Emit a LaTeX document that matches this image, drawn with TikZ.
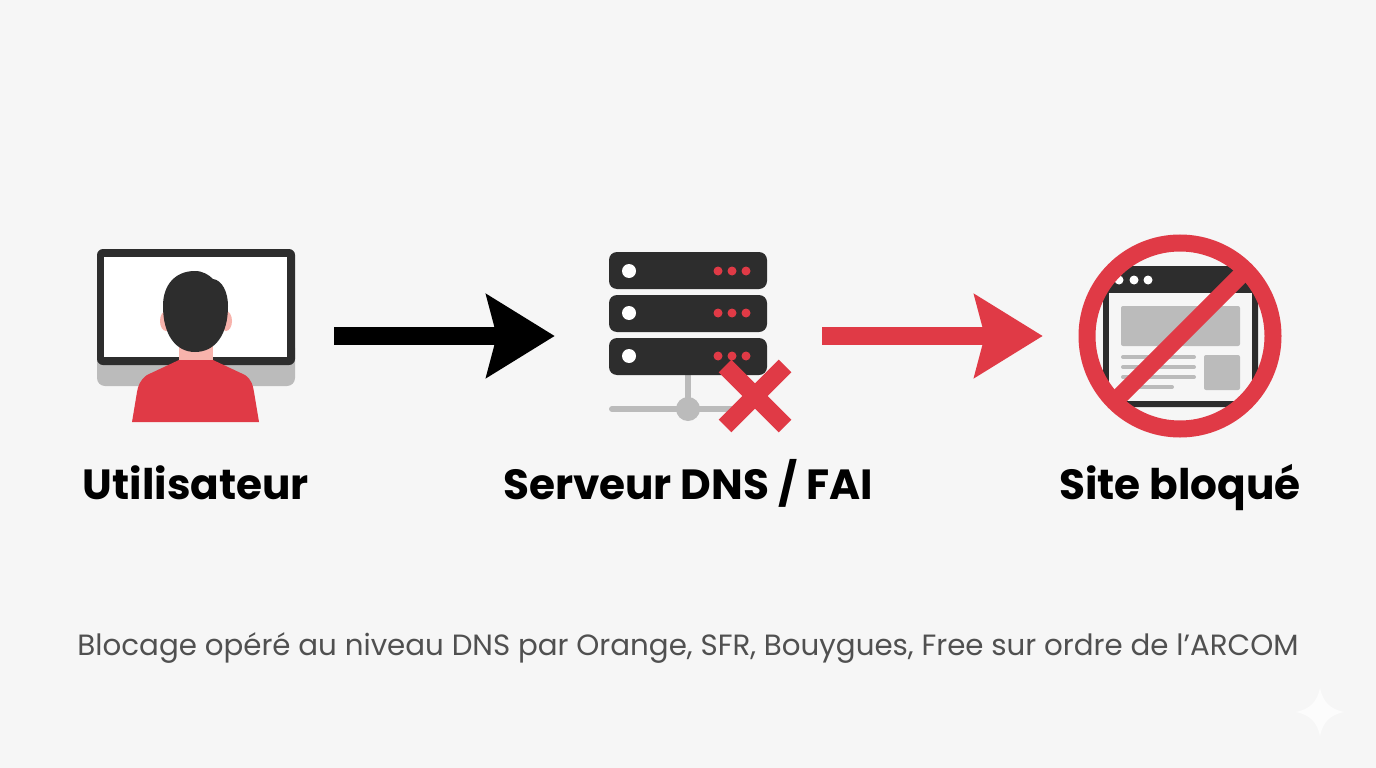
\documentclass[tikz,border=0pt]{standalone}
\usepackage{fontspec}
\setmainfont{Poppins}
\usetikzlibrary{arrows.meta, positioning, calc}
\definecolor{PageGray}{HTML}{F6F6F6}
\definecolor{IconDark}{HTML}{2D2D2D}
\definecolor{IconGray}{HTML}{BBBBBB}
\definecolor{AlertRed}{HTML}{E03A46}
\definecolor{SkinPink}{HTML}{F7B3AC}
\definecolor{TextGray}{HTML}{505050}

\begin{document}
\begin{tikzpicture}[
        x=1pt, y=-1pt,
        box/.style={minimum width=#1, minimum height=40pt, inner sep=0pt},
        title/.style={anchor=base, font=\fontsize{42.2}{50}\selectfont\bfseries, text=black},
        flow/.style={-{Stealth[length=68pt, width=82pt, inset=10pt]}, line width=18pt},
        rack/.style={fill=IconDark, rounded corners=8pt, minimum width=158pt, minimum height=37pt, inner sep=0pt},
        bar/.style={line width=4pt, IconGray, line cap=round},
      ]
        \fill[PageGray] (0,0) rectangle (1376,768);
        \useasboundingbox (0,0) rectangle (1376,768);
        % emplacement des trois icones
        \node[box=198pt] (user) at (196,336) {};
        \node[box=158pt] (dns) at (688,336) {};
        \node[box=202pt] (site) at (1180,336) {};
        % ecran
        \fill[IconGray, rounded corners=8pt] (97,340) rectangle (295,386);
        \fill[IconDark, rounded corners=6pt] (97,249) -- (295,249) -- (295,365) -- (97,365) -- cycle;
        \fill[white] (104,257) rectangle (287,357);
        % utilisateur de dos
        \fill[SkinPink] (166,321) ellipse (6 and 10);
        \fill[SkinPink] (226,321) ellipse (6 and 10);
        \fill[SkinPink] (179,340) rectangle (213,362);
        \fill[AlertRed] (179,360) -- (213,360) -- (245,375)
            .. controls (252,380) and (253,386) .. (254,392) -- (259,422) -- (132,422) -- (137,392)
            .. controls (138,386) and (140,380) .. (147,375) -- cycle;
        \fill[IconDark] (163,306) .. controls (163,285) and (175,271) .. (195,271)
            .. controls (203,271) and (209,275) .. (213,279)
            .. controls (222,280) and (228,292) .. (228,306)
            .. controls (228,335) and (215,352) .. (195,352)
            .. controls (176,352) and (163,335) .. (163,306) -- cycle;
        % serveur
        \draw[line width=6pt, IconGray] (688,375) -- (688,409);
        \draw[line width=6pt, IconGray, line cap=round] (612,409) -- (740,409);
        \fill[IconGray] (688,409) circle (12);
        \node[rack] (r1) at (688,270.5) {};
        \node[rack] (r2) at (688,313.5) {};
        \node[rack] (r3) at (688,356.5) {};
        \fill[white] (629,271) circle (7) (629,313) circle (7) (629,356) circle (7);
        \fill[AlertRed] (718,271) circle (4.5) (732,271) circle (4.5) (746,271) circle (4.5);
        \fill[AlertRed] (718,313) circle (4.5) (732,313) circle (4.5) (746,313) circle (4.5);
        \fill[AlertRed] (718,356) circle (4.5) (732,356) circle (4.5) (746,356) circle (4.5);
        \draw[line width=18pt, AlertRed] (725,366) -- (785,426) (785,366) -- (725,426);
        % page web bloquee
        \begin{scope}
          \clip (1180,336) circle (95);
          \fill[IconDark, rounded corners=6pt] (1103,266) rectangle (1258,407);
          \fill[PageGray] (1109,293) rectangle (1252,401);
          \fill[white] (1119,280) circle (4.5) (1134,280) circle (4.5) (1148,280) circle (4.5);
        \end{scope}
        \fill[IconGray, rounded corners=2pt] (1121,306) rectangle (1240,346);
        \fill[IconGray, rounded corners=2pt] (1204,355) rectangle (1240,390);
        \draw[bar] (1123,357) -- (1194,357);
        \draw[bar] (1123,367) -- (1194,367);
        \draw[bar] (1123,377) -- (1194,377);
        \draw[bar] (1123,387) -- (1172,387);
        \draw[line width=17pt, AlertRed] (1180,336) circle (93);
        \draw[line width=17pt, AlertRed] (1120,396) -- (1246,270);
        % fleches
        \draw[flow, black, shorten <=39pt, shorten >=54pt] (user.east) -- (dns.west);
        \draw[flow, AlertRed, shorten <=55pt, shorten >=36pt] (dns.east) -- (site.west);
        % libelles
        \node[title] (userlabel) at (196,499) {Utilisateur};
        \node[title] (dnslabel) at (688,499) {Serveur DNS / FAI};
        \node[title] (sitelabel) at (1180,499) {Site bloqué};
        \node[anchor=base, font=\fontsize{29.3}{34}\selectfont, text=TextGray] (note) at (688,655)
            {Blocage opéré au niveau DNS par Orange, SFR, Bouygues, Free sur ordre de l’ARCOM};
        % etoile du coin
        \fill[white!70!PageGray] (1320,688) .. controls (1323,702) and (1330,709) .. (1344,712)
            .. controls (1330,715) and (1323,722) .. (1320,736)
            .. controls (1317,722) and (1310,715) .. (1296,712)
            .. controls (1310,709) and (1317,702) .. (1320,688) -- cycle;
      \end{tikzpicture}
\end{document}
